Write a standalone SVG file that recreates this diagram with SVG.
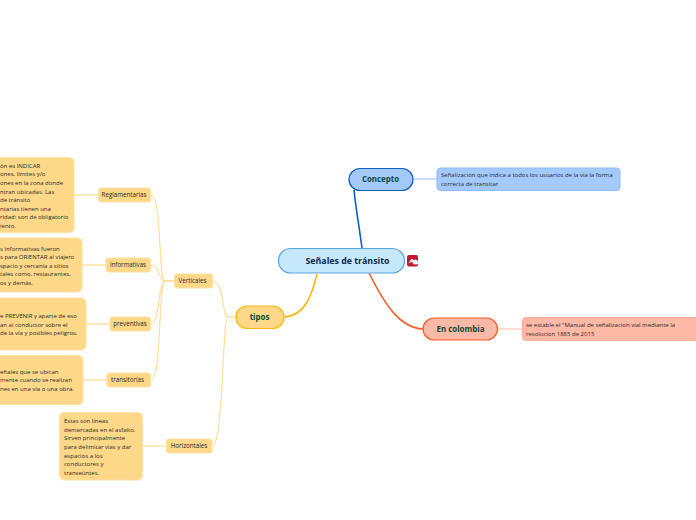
<svg xmlns="http://www.w3.org/2000/svg" width="696" height="520" viewBox="0 0 696 520">
<style>
text{font-family:"Open Sans","Noto Sans",sans-serif;fill:#2a2a2a;font-size:6px}
.y{fill:#fdd888;stroke:#fee2a3;stroke-width:1.2}
.c{fill:none;stroke:#fedf9c;stroke-width:1.2}
.d{fill:none;stroke:#fee2a3;stroke-width:1.5}
.lab{text-anchor:middle;font-size:6.200px}
.main{text-anchor:middle;font-weight:700;font-size:7.900px;fill:#0f4a3c}
</style>
<g id="connectors" fill="none">
<path d="M362 248C359 225 356 210 354 190" stroke="#0b5fc5" stroke-width="1.6"/>
<path d="M317 274C312 295 305 316 284 317" stroke="#fdb813" stroke-width="1.6"/>
<path d="M369 273C385 305 400 328 423 329" stroke="#f65c25" stroke-width="1.6"/>
<path d="M413 179H437" stroke="#a3c9fd" stroke-width="1.2"/>
<path d="M498 329H522" stroke="#fbc7b4" stroke-width="1.2"/>
<path class="c" d="M236 317H228C222 317 224 281 213 281"/>
<path class="c" d="M236 317H228C222 317 224 446 212 446"/>
<path class="c" d="M174 281H165C158 281 162 195 151 195"/>
<path class="c" d="M174 281H165C158 281 160 265 151 265"/>
<path class="c" d="M174 281H165C158 281 160 324 151 324"/>
<path class="c" d="M174 281H165C158 281 162 380 151 380"/>
<path class="d" d="M99 195H74M106 265H82M110 324H86M107 380H83M166 446H143"/>
</g>
<g id="root"><rect x="278.500" y="248.500" width="126" height="24.500" rx="12" fill="#c5e8fd" stroke="#5aa6e0" stroke-width="1.2"/><text x="347.500" y="264" text-anchor="middle" font-weight="700" style="font-size:8.800px;fill:#0b2a4a">Señales de tránsito</text></g>
<g id="icon"><rect x="407" y="255" width="11" height="11.500" rx="2" fill="#c3172f"/><path d="M409 263L412 259L414 261M413.500 264a2.500 2.500 0 1 1 4 0z" fill="#fff" stroke="#fff" stroke-width=".8"/></g>
<g id="concepto"><rect x="349" y="168.500" width="64" height="22" rx="11" fill="#a3c9fd" stroke="#0b5fc5" stroke-width="1.2"/><text class="main" x="380.500" y="182">Concepto</text></g>
<g id="concepto-desc"><rect x="437" y="168" width="183" height="22.500" rx="3.500" fill="#a3c9fd" stroke="#8dbbf5"/><text x="441" y="176.500">Señalización que indica a todos los usuarios de la via la forma</text><text x="441" y="186">correcta de transitar</text></g>
<g id="colombia"><rect x="423" y="318" width="74.500" height="22" rx="11" fill="#fbb9a6" stroke="#f65c25" stroke-width="1.2"/><text class="main" x="460.500" y="332">En colombia</text></g>
<g id="colombia-desc"><rect x="522.500" y="317.500" width="190" height="23" rx="3.500" fill="#fbb9a6" stroke="#f9ab95"/><text x="526" y="327">se estable el "Manual de señalizacion vial mediante la</text><text x="526" y="335.500">resolucion 1885 de  2015</text></g>
<g id="tipos"><rect x="236" y="306" width="48" height="22.500" rx="11" fill="#fdd888" stroke="#fdb813" stroke-width="1.2"/><text class="main" x="259.500" y="320">tipos</text></g>
<g id="verticales"><rect x="174.500" y="274" width="38" height="14" rx="3" class="y"/><text class="lab" x="192.500" y="283.300">Verticales</text></g>
<g id="horizontales"><rect x="166.500" y="439" width="45.500" height="14" rx="3" class="y"/><text class="lab" x="189" y="448.300">Horizontales</text></g>
<g id="reglamentarias"><rect x="98.500" y="188" width="52" height="14" rx="3" class="y"/><text class="lab" x="124" y="197.300">Reglamentarias</text></g>
<g id="informativas"><rect x="106" y="258" width="44.500" height="14" rx="3" class="y"/><text class="lab" x="128" y="267.300">informativas</text></g>
<g id="preventivas"><rect x="110" y="317" width="40.500" height="14" rx="3" class="y"/><text class="lab" x="130" y="326.300">preventivas</text></g>
<g id="transitorias"><rect x="107" y="373" width="43.500" height="14" rx="3" class="y"/><text class="lab" x="127.500" y="382.300">transitorias</text></g>
<g id="reglamentarias-desc"><rect x="-40" y="157.500" width="114" height="75" rx="5" class="y"/><text x="0" y="167.500">ón es INDICAR</text><text x="0" y="176">ones, límites y/o</text><text x="0" y="185">ones en la zona donde</text><text x="0" y="193.500">ntran ubicadas. Las</text><text x="0" y="202">de tránsito</text><text x="0" y="210.500">ntarias tienen una</text><text x="0" y="219">ridad: son de obligatorio</text><text x="0" y="228">iento.</text></g>
<g id="informativas-desc"><rect x="-40" y="238" width="122" height="54" rx="5" class="y"/><text x="0" y="250.500">s informativas fueron</text><text x="0" y="259">s para ORIENTAR al viajero</text><text x="0" y="267.500">spacio y cercanía a sitios</text><text x="0" y="276">tales como, restaurantes,</text><text x="0" y="285">os y demás.</text></g>
<g id="preventivas-desc"><rect x="-40" y="298" width="126" height="52" rx="5" class="y"/><text x="0" y="318">e PREVENIR y aparte de eso</text><text x="0" y="326.500">an al conductor sobre el</text><text x="0" y="335">de la vía y posibles peligros.</text></g>
<g id="transitorias-desc"><rect x="-40" y="355.500" width="123" height="49" rx="5" class="y"/><text x="0" y="373.500">eñales que se ubican</text><text x="0" y="382">mente cuando se realizan</text><text x="0" y="391">nes en una vía o una obra.</text></g>
<g id="horizontales-desc"><rect x="59.500" y="412.500" width="83" height="67.500" rx="5" class="y"/><text x="64" y="422.500">Estas son líneas</text><text x="64" y="431.500">demarcadas en el asfalto.</text><text x="64" y="440">Sirven principalmente</text><text x="64" y="449">para delimitar vías y dar</text><text x="64" y="457.500">espacios a los</text><text x="64" y="466">conductores y</text><text x="64" y="474.500">transeúntes.</text></g>
</svg>
